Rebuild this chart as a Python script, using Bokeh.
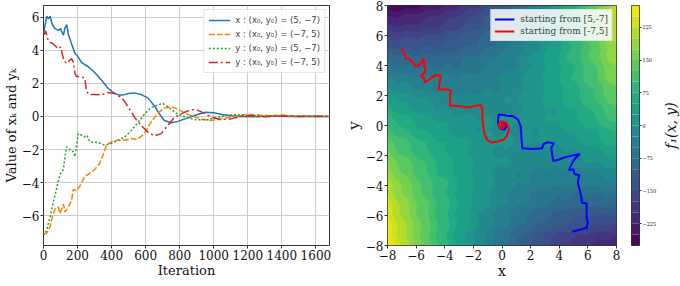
import numpy as np
from bokeh.plotting import figure
from bokeh.layouts import row
from bokeh.models import (Legend, LegendItem, LinearColorMapper, FixedTicker, Range1d)
from bokeh.embed import file_html
from bokeh.resources import INLINE
from bokeh.palettes import Viridis256

SERIF = "DejaVu Serif"
SANS = "DejaVu Sans"

# ---------------- left panel: iterates over time ----------------
x_a_iter = [0, 9, 19, 29, 39, 52, 68, 87, 100, 117, 126, 136, 146, 165, 185, 200, 224, 263, 301, 340,
            379, 409, 440, 470, 500, 535, 574, 613, 652, 681, 710, 749, 790, 840, 900, 950, 1000, 1050,
            1100, 1160, 1250, 1350, 1450, 1550, 1680]
x_a_vals = [4.97, 5.5, 6.05, 5.9, 6.05, 5.55, 5.3, 5.2, 5.3, 4.9, 5.35, 5.55, 4.95, 4.38, 3.8, 3.65, 3.25,
            3.0, 2.65, 2.2, 1.7, 1.45, 1.3, 1.3, 1.38, 1.42, 1.32, 1.12, 0.63, 0.14, -0.25, -0.38, -0.3,
            -0.12, 0.1, 0.25, 0.22, 0.12, 0.04, 0.0, -0.02, 0.02, 0.0, 0.01, 0.0]

x_b_iter = [0, 19, 39, 52, 68, 87, 97, 117, 126, 146, 165, 175, 194, 214, 243, 263, 301, 331, 350, 370,
            399, 438, 477, 516, 545, 575, 600, 632, 671, 710, 749, 788, 847, 924, 983, 1041, 1119, 1197,
            1250, 1314, 1400, 1500, 1600, 1680]
x_b_vals = [-7.1, -7.06, -6.66, -6.07, -5.58, -5.48, -5.87, -5.3, -5.78, -5.48, -5.09, -4.4, -4.5, -4.2,
            -3.61, -3.51, -3.21, -2.82, -2.33, -1.73, -1.54, -1.44, -1.44, -1.34, -1.4, -1.2, -0.9, -0.35,
            0.2, 0.5, 0.58, 0.44, 0.12, -0.15, -0.25, -0.15, 0.0, 0.12, 0.1, 0.05, 0.08, 0.02, 0.0, 0.0]

y_a_iter = [0, 2, 19, 39, 58, 78, 97, 117, 126, 136, 155, 175, 185, 194, 204, 224, 243, 255, 272, 321,
            360, 399, 438, 477, 516, 555, 593, 632, 662, 700, 749, 788, 837, 895, 963, 1022, 1080, 1139,
            1200, 1300, 1400, 1500, 1600, 1680]
y_a_vals = [-7.1, -7.16, -6.86, -6.07, -5.18, -4.3, -3.51, -3.21, -2.43, -1.83, -2.03, -2.13, -2.43, -1.73,
            -1.04, -1.14, -1.24, -1.15, -1.54, -1.58, -1.73, -1.63, -1.44, -1.24, -0.85, -0.36, 0.14, 0.53,
            0.65, 0.79, 0.44, 0.14, -0.06, -0.2, -0.2, -0.06, 0.08, 0.1, 0.05, 0.0, 0.03, -0.01, 0.0, 0.0]

y_b_iter = [0, 6, 13, 25, 39, 55, 68, 87, 100, 117, 126, 136, 155, 165, 175, 185, 194, 224, 243, 253,
            266, 301, 340, 379, 428, 467, 496, 535, 574, 613, 652, 691, 730, 769, 827, 866, 895, 934, 983,
            1041, 1100, 1158, 1220, 1300, 1400, 1500, 1600, 1680]
y_b_vals = [4.95, 4.97, 5.17, 4.67, 4.48, 4.4, 4.28, 4.08, 4.2, 3.49, 3.3, 3.2, 3.4, 3.49, 3.3, 2.6, 2.41,
            2.41, 2.3, 1.52, 1.32, 1.32, 1.3, 1.45, 1.36, 1.03, 0.6, -0.06, -0.55, -0.95, -1.18, -1.04,
            -0.55, -0.06, 0.24, 0.4, 0.42, 0.24, -0.02, -0.2, -0.15, 0.0, 0.05, -0.02, 0.02, 0.0, 0.01, 0.0]

legend_labels = ["x : (x\u2080, y\u2080) = (5, \u22127)", "x : (x\u2080, y\u2080) = (\u22127, 5)",
                 "y : (x\u2080, y\u2080) = (5, \u22127)", "y : (x\u2080, y\u2080) = (\u22127, 5)"]
series_colors = ["#1f77b4", "#ff7f0e", "#2ca02c", "#d62728"]
series_dash = ["solid", "6 2", "2 2", "9 3 2 3"]

# ---------------- right panel: trajectories in the plane ----------------
path_a_x = [4.91, 5.49, 5.91, 6.0, 5.91, 5.91, 5.6, 5.49, 5.3, 5.4, 5.07, 4.98, 4.67, 4.91, 5.14, 5.44,
            5.02, 4.44, 3.98, 3.58, 3.51, 3.44, 3.63, 3.16, 2.88, 2.81, 2.12, 1.42, 1.35, 1.3, 1.12, 0.79,
            0.37, 0.02, -0.23, -0.28, -0.26, -0.09, 0.19, 0.33, 0.19, 0.02, 0.09, 0.0]
path_a_y = [-7.08, -6.93, -6.82, -6.5, -6.06, -5.2, -5.15, -4.55, -3.79, -3.31, -3.24, -2.92, -2.98, -2.48,
            -2.16, -1.9, -1.98, -2.11, -2.27, -2.37, -1.94, -1.46, -1.18, -1.12, -1.25, -1.51, -1.57, -1.51,
            -0.7, -0.04, 0.39, 0.61, 0.65, 0.72, 0.74, 0.39, 0.07, -0.22, -0.26, 0.0, 0.22, 0.13, -0.09, 0.0]
path_b_x = [-7.07, -6.84, -6.72, -6.49, -6.38, -6.14, -6.03, -5.79, -5.68, -5.56, -5.45, -5.45, -5.33,
            -5.45, -5.68, -5.45, -5.4, -5.1, -4.86, -4.63, -4.4, -4.28, -4.44, -4.16, -3.77, -3.58, -3.63,
            -3.63, -3.23, -2.77, -2.3, -1.84, -1.49, -1.37, -1.37, -1.3, -1.19, -1.02, -0.67, -0.28, 0.14,
            0.37, 0.49, 0.32, 0.02, -0.21, -0.21, 0.02, 0.19, 0.05, -0.05, 0.0]
path_b_y = [5.11, 4.89, 4.46, 4.46, 4.35, 4.13, 3.92, 4.03, 4.13, 4.35, 4.46, 4.03, 3.7, 3.48, 3.31, 3.16,
            2.88, 3.05, 3.22, 3.37, 3.37, 3.27, 2.4, 2.4, 2.4, 2.29, 1.75, 1.31, 1.31, 1.27, 1.2, 1.31,
            1.36, 1.1, 0.45, -0.21, -0.64, -0.97, -1.14, -1.07, -0.92, -0.64, -0.2, 0.16, 0.29, 0.12,
            -0.14, -0.2, -0.03, 0.1, -0.03, 0.0]
path_labels = ["starting from [5,-7]", "starting from [-7,5]"]
path_colors = ["blue", "red"]

# background objective f1(x, y) (coefficients of the surface)
F_QUAD = 1.5
F_CROSS = 3.9
F_LIN_Y = 3.0
F_WAVE = 4.0
F_FREQ = 4.5
levels = list(range(-275, 276, 25))
cbar_ticks = [-225, -150, -75, 0, 75, 150, 225]

n_bands = len(levels) - 1
band_colors = [Viridis256[int(round((i + 0.5) / n_bands * 255))] for i in range(n_bands)]

AX_COLOR = "#333333"
H = 281
TOP = 5
BOTTOM = 35


def style_axes(p, tick_size="12px"):
    for ax in (p.xaxis, p.yaxis):
        ax.major_label_text_font = SERIF
        ax.major_label_text_font_size = tick_size
        ax.axis_label_text_font = SERIF
        ax.axis_label_text_font_style = "normal"
        ax.minor_tick_line_color = None
        ax.major_tick_out = 3
        ax.major_tick_in = 0
        ax.major_label_standoff = 1
        ax.axis_label_standoff = 0
        ax.axis_line_color = None
        ax.major_tick_line_color = AX_COLOR
        ax.major_label_text_color = "#111111"
        ax.axis_label_text_color = "#111111"
    p.outline_line_color = AX_COLOR
    p.outline_line_width = 1
    p.background_fill_color = "white"


def minus(vals):
    return {v: (("\u2212" + str(abs(v))) if v < 0 else str(v)) for v in vals}


# ---------------- figure 1 ----------------
p1 = figure(width=334, height=H, x_range=Range1d(0, 1680), y_range=Range1d(-7.8, 6.7),
            output_backend="svg", toolbar_location=None,
            min_border_left=42, min_border_right=5, min_border_top=TOP, min_border_bottom=BOTTOM)
style_axes(p1)
xt1 = list(range(0, 1601, 200))
yt1 = [-6, -4, -2, 0, 2, 4, 6]
p1.xaxis.ticker = FixedTicker(ticks=xt1)
p1.yaxis.ticker = FixedTicker(ticks=yt1)
p1.yaxis.major_label_overrides = minus(yt1)
p1.xaxis.axis_label = "Iteration"
p1.yaxis.axis_label = "Value of x\u2096 and y\u2096"
p1.xaxis.axis_label_text_font_size = "13px"
p1.yaxis.axis_label_text_font_size = "13px"
p1.xgrid.grid_line_color = "#cccccc"
p1.ygrid.grid_line_color = "#cccccc"
p1.xgrid.ticker = FixedTicker(ticks=xt1)
p1.ygrid.ticker = FixedTicker(ticks=yt1)

items1 = []
for xs, ys, c, d, lab in zip([x_a_iter, x_b_iter, y_a_iter, y_b_iter],
                             [x_a_vals, x_b_vals, y_a_vals, y_b_vals],
                             series_colors, series_dash, legend_labels):
    r = p1.line(xs, ys, line_color=c, line_width=1.5, line_dash=d)
    items1.append(LegendItem(label=lab, renderers=[r]))

leg1 = Legend(items=items1, location="top_right", margin=4, padding=4, spacing=2,
              label_height=12, glyph_height=12, glyph_width=22, label_standoff=5,
              label_text_font=SANS, label_text_font_size="8.5px",
              background_fill_alpha=0.85, border_line_color="#cccccc", border_line_width=1)
p1.add_layout(leg1)

# ---------------- figure 2 ----------------
p2 = figure(width=288, height=H, x_range=Range1d(-8, 8), y_range=Range1d(-8, 8),
            output_backend="svg", toolbar_location=None,
            min_border_left=53, min_border_right=6, min_border_top=TOP, min_border_bottom=BOTTOM)
style_axes(p2)
t2 = [-8, -6, -4, -2, 0, 2, 4, 6, 8]
p2.xaxis.ticker = FixedTicker(ticks=t2)
p2.yaxis.ticker = FixedTicker(ticks=t2)
p2.xaxis.major_label_overrides = minus(t2)
p2.yaxis.major_label_overrides = minus(t2)
p2.xaxis.axis_label = "x"
p2.yaxis.axis_label = "y"
p2.xaxis.axis_label_text_font_size = "14px"
p2.yaxis.axis_label_text_font_size = "15px"
p2.grid.visible = False

gx = np.linspace(-8, 8, 401)
GX, GY = np.meshgrid(gx, gx)
Z = (F_QUAD * (GX ** 2 - GY ** 2) + F_CROSS * GX * GY - F_LIN_Y * GY
     + F_WAVE * (np.sin(F_FREQ * GX) + np.sin(F_FREQ * GY)))
Z = np.clip(Z, levels[0] + 0.01, levels[-1] - 0.01)
cmap = LinearColorMapper(palette=band_colors, low=levels[0], high=levels[-1])
p2.image(image=[Z], x=-8, y=-8, dw=16, dh=16, color_mapper=cmap)

items2 = []
for xs, ys, c, lab in zip([path_a_x, path_b_x], [path_a_y, path_b_y], path_colors, path_labels):
    r = p2.line(xs, ys, line_color=c, line_width=2)
    items2.append(LegendItem(label=lab, renderers=[r]))
leg2 = Legend(items=items2, location="top_right", margin=4, padding=3, spacing=0,
              label_height=12, glyph_height=12, glyph_width=20, label_standoff=6,
              label_text_font=SERIF, label_text_font_size="9px",
              background_fill_alpha=0.85, border_line_color="#cccccc", border_line_width=1)
p2.add_layout(leg2)

# ---------------- figure 3: colour bar ----------------
p3 = figure(width=37, height=H, x_range=Range1d(0, 1), y_range=Range1d(levels[0], levels[-1]),
            output_backend="svg", toolbar_location=None, y_axis_location="right",
            min_border_left=9, min_border_right=17, min_border_top=TOP, min_border_bottom=BOTTOM)
style_axes(p3, tick_size="5px")
p3.xaxis.visible = False
p3.grid.visible = False
p3.quad(left=0, right=1, bottom=levels[:-1], top=levels[1:], fill_color=band_colors, line_color=None)
p3.yaxis.ticker = FixedTicker(ticks=cbar_ticks)
p3.yaxis.major_label_overrides = minus(cbar_ticks)
p3.yaxis.major_tick_out = 2

# ---------------- figure 4: colour bar title ----------------
p4 = figure(width=21, height=H, x_range=Range1d(0, 1), y_range=Range1d(0, 1),
            output_backend="svg", toolbar_location=None,
            min_border_left=20, min_border_right=0, min_border_top=TOP, min_border_bottom=BOTTOM)
p4.xaxis.visible = False
p4.grid.visible = False
p4.outline_line_color = None
p4.yaxis.ticker = FixedTicker(ticks=[])
p4.yaxis.axis_line_color = None
p4.yaxis.major_tick_line_color = None
p4.yaxis.minor_tick_line_color = None
p4.yaxis.major_tick_out = 0
p4.yaxis.major_label_standoff = 0
p4.yaxis.axis_label_standoff = 2
p4.yaxis.axis_label = "f\u2081(x, y)"
p4.yaxis.axis_label_text_font = SERIF
p4.yaxis.axis_label_text_font_style = "italic"
p4.yaxis.axis_label_text_font_size = "14px"
p4.yaxis.axis_label_text_color = "#111111"

layout = row(p1, p2, p3, p4)
open("out.html", "w").write(file_html(layout, INLINE))
